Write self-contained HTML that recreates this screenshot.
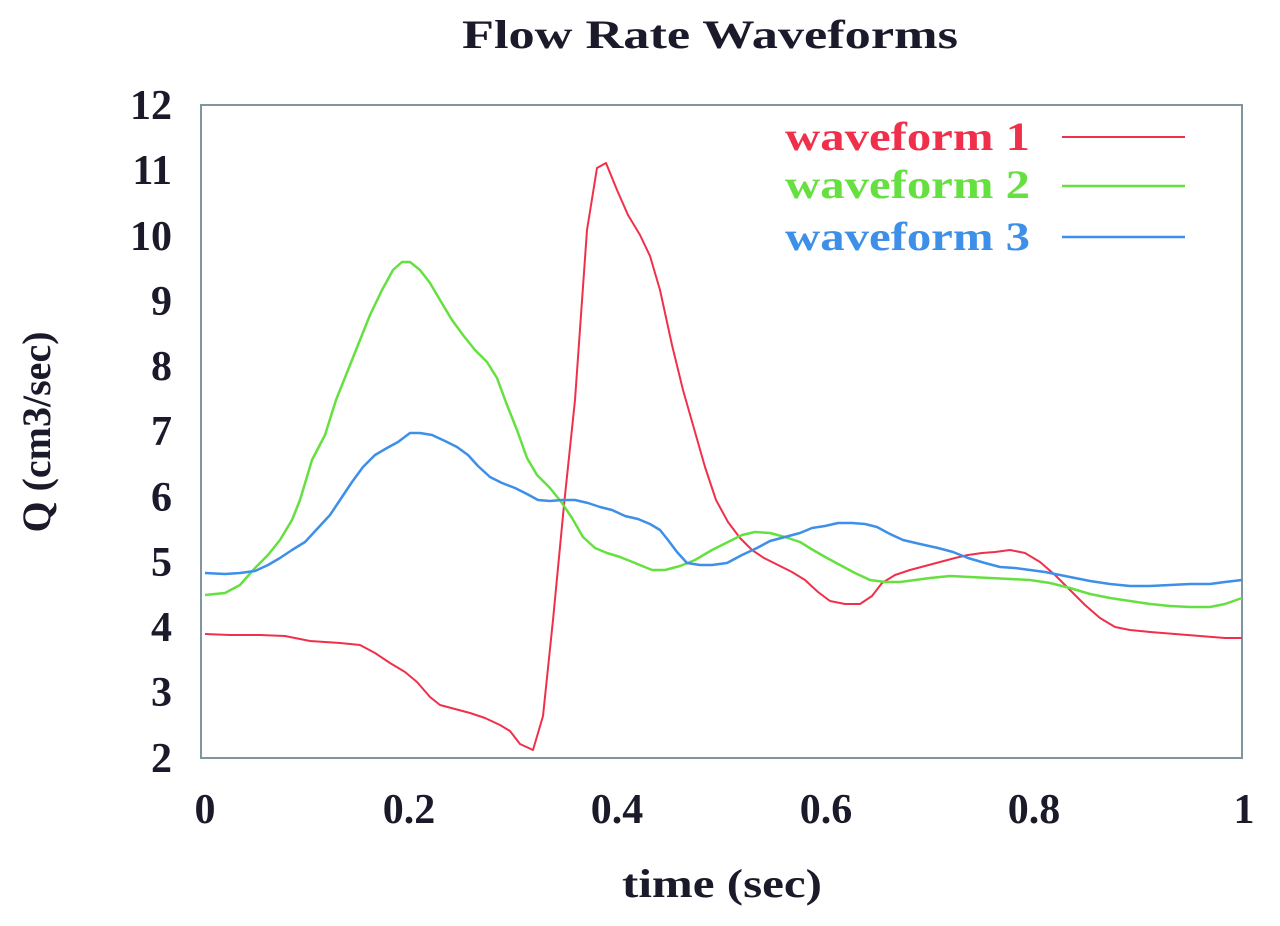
<!DOCTYPE html><html><head><style>body{margin:0;background:#fff}</style></head><body>
<svg width="1280" height="921" xmlns="http://www.w3.org/2000/svg" font-family="Liberation Serif, serif" font-weight="bold" fill="#1a1a2a">
<text x="462" y="48" font-size="40" textLength="496" lengthAdjust="spacingAndGlyphs">Flow Rate Waveforms</text>
<rect x="201" y="105" width="1041" height="653" fill="none" stroke="#7f95a0" stroke-width="2"/>
<g font-size="42" text-anchor="end">
<text x="172" y="119">12</text><text x="172" y="184">11</text><text x="172" y="250">10</text><text x="172" y="315">9</text><text x="172" y="380">8</text><text x="172" y="445">7</text><text x="172" y="511">6</text><text x="172" y="576">5</text><text x="172" y="641">4</text><text x="172" y="706">3</text><text x="172" y="772">2</text>
</g>
<g font-size="42" text-anchor="middle">
<text x="205" y="823">0</text><text x="409" y="823">0.2</text><text x="617" y="823">0.4</text><text x="826" y="823">0.6</text><text x="1034" y="823">0.8</text><text x="1244" y="823">1</text>
</g>
<text x="622" y="897" font-size="40" textLength="200" lengthAdjust="spacingAndGlyphs">time (sec)</text>
<text transform="translate(50,432) rotate(-90)" text-anchor="middle" font-size="40">Q (cm3/sec)</text>
<g font-size="40">
<text x="785" y="150" fill="#f0304a" textLength="245" lengthAdjust="spacingAndGlyphs">waveform 1</text>
<text x="785" y="198" fill="#66e040" textLength="245" lengthAdjust="spacingAndGlyphs">waveform 2</text>
<text x="785" y="250" fill="#3d8fe8" textLength="245" lengthAdjust="spacingAndGlyphs">waveform 3</text>
</g>
<line x1="1062" y1="137" x2="1185" y2="137" stroke="#f0304a" stroke-width="2"/>
<line x1="1062" y1="186" x2="1185" y2="186" stroke="#66e040" stroke-width="2.5"/>
<line x1="1062" y1="237" x2="1185" y2="237" stroke="#3d8fe8" stroke-width="2.5"/>
<g fill="none" stroke-width="2.5" stroke-linejoin="round">
<polyline stroke="#f0304a" stroke-width="2" points="205,634 230,635 260,635 285,636 310,641 340,643 360,645 375,653 390,663 405,672 417,682 430,697 440,705 455,709 470,713 485,718 500,725 510,731 520,744 533,750 543,716 553,620 564,505 575,400 587,230 597,168 606,163 617,190 628,215 640,235 650,256 660,290 672,345 683,390 693,425 705,467 716,500 728,522 740,538 752,550 764,558 778,565 792,572 805,580 818,592 830,601 845,604 860,604 872,596 882,583 895,575 910,570 925,566 940,562 955,558 968,555 982,553 995,552 1010,550 1025,553 1040,562 1055,575 1070,590 1085,605 1100,618 1115,627 1130,630 1150,632 1175,634 1200,636 1225,638 1242,638"/>
<polyline stroke="#66e040" points="205,595 225,593 240,585 255,568 268,555 280,540 292,520 300,500 312,460 325,435 336,400 348,370 360,340 370,315 382,290 393,270 402,262 410,262 420,270 430,283 440,300 452,320 463,335 475,350 487,362 497,378 507,405 517,430 527,458 537,475 550,488 562,503 572,518 583,537 595,548 607,553 620,557 635,563 652,570 665,570 680,566 695,560 712,550 728,542 742,535 755,532 770,533 785,537 800,542 813,550 827,558 840,565 855,573 870,580 885,582 900,582 915,580 930,578 950,576 970,577 990,578 1010,579 1030,580 1050,583 1070,588 1090,594 1110,598 1130,601 1150,604 1170,606 1190,607 1210,607 1225,604 1242,598"/>
<polyline stroke="#3d8fe8" points="205,573 225,574 240,573 255,571 268,565 280,558 292,550 305,542 318,528 330,515 340,500 352,482 363,467 375,455 387,448 398,442 410,433 420,433 432,435 445,441 457,447 468,455 478,466 490,477 502,483 515,488 527,494 538,500 550,501 562,500 575,500 588,503 600,507 612,510 625,516 638,519 650,524 660,530 668,540 677,552 687,563 700,565 712,565 727,563 742,555 757,548 770,541 785,537 800,533 812,528 825,526 838,523 852,523 865,524 877,527 890,534 903,540 920,544 938,548 953,552 968,558 985,563 1000,567 1015,568 1030,570 1045,572 1060,575 1075,578 1090,581 1110,584 1130,586 1150,586 1170,585 1190,584 1210,584 1225,582 1242,580"/>
</g>
</svg>
</body></html>
